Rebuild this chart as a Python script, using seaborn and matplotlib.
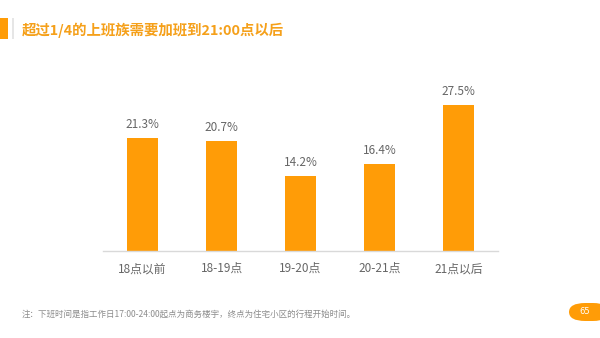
import matplotlib
matplotlib.use("Agg")
import matplotlib.pyplot as plt
import seaborn as sns
import pandas as pd
from matplotlib.patches import FancyBboxPatch, Rectangle

categories = ["18点以前", "18-19点", "19-20点", "20-21点", "21点以后"]
values = [21.3, 20.7, 14.2, 16.4, 27.5]
value_labels = ["21.3%", "20.7%", "14.2%", "16.4%", "27.5%"]
title = "超过1/4的上班族需要加班到21:00点以后"
note = "注：下班时间是指工作日17:00-24:00起点为商务楼宇，终点为住宅小区的行程开始时间。"
page = "65"

sns.set_theme(style="white")
plt.rcParams['font.family'] = ['Noto Sans CJK SC', 'DejaVu Sans']

orange = "#FF9C07"
gray_text = "#666666"

fig = plt.figure(figsize=(6, 3.38), dpi=100)
W, H = 600, 338
ax = fig.add_axes([103 / W, 1 - 251 / H, 395 / W, (251 - 92) / H])
df = pd.DataFrame({"cat": categories, "val": values})
sns.barplot(data=df, x="cat", y="val", color=orange, saturation=1, width=0.40, ax=ax,
            edgecolor="none")
ax.set_xlim(-0.5, 4.5)
ax.set_ylim(0, 30)
ax.set_xlabel("")
ax.set_ylabel("")
ax.set_yticks([])
for s in ["top", "right", "left"]:
    ax.spines[s].set_visible(False)
ax.spines["bottom"].set_color("#D9D9D9")
ax.spines["bottom"].set_linewidth(1)
ax.tick_params(axis="x", length=0, pad=8, labelsize=8.5, labelcolor=gray_text)
for lab in ax.get_xticklabels():
    lab.set_fontweight("light")
for i, (v, lab) in enumerate(zip(values, value_labels)):
    ax.text(i, v + 1.3, lab, ha="center", va="bottom", fontsize=8.5, color=gray_text,
            fontweight="light")

fig.patches.append(Rectangle((0, 1 - 39 / H), 8 / W, 21 / H, transform=fig.transFigure,
                             facecolor=orange, edgecolor="none"))
fig.patches.append(Rectangle((12 / W, 1 - 39 / H), 2 / W, 21 / H, transform=fig.transFigure,
                             facecolor="#E6E6E6", edgecolor="none"))
fig.text(22 / W, 1 - 30 / H, title, ha="left", va="center", fontsize=10.4, color="#F5A01A",
         fontweight="bold")

fig.text(22 / W, 1 - 314 / H, note, ha="left", va="center", fontsize=6.1, color="#8C8C8C")

fig.patches.append(FancyBboxPatch((569 / W, 1 - 321 / H), 40 / W, 18 / H,
                                  boxstyle="round,pad=0,rounding_size=0.027",
                                  transform=fig.transFigure, facecolor=orange,
                                  edgecolor="none"))
fig.text(585 / W, 1 - 312 / H, page, ha="center", va="center", fontsize=6, color="white",
         family="DejaVu Sans", rotation=0)

fig.savefig("out.png", dpi=100)
